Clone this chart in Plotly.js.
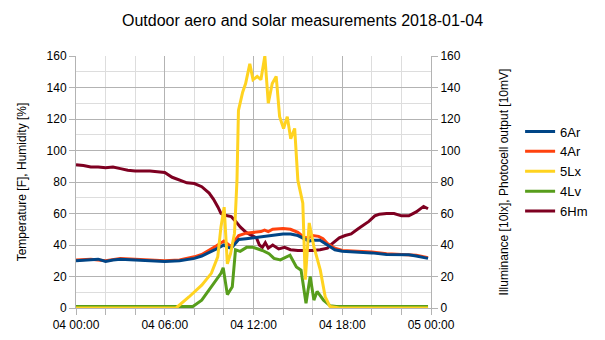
<!DOCTYPE html>
<html><head><meta charset="utf-8">
<script src="https://cdn.plot.ly/plotly-3.0.1.min.js"></script>
<style>html,body{margin:0;padding:0;background:#fff}#c{width:605px;height:340px}</style>
</head><body><div id="c"></div>
<script>
const day = '2018-01-04';
// hours after midnight
const t6Ar = [0,1,1.5,2,2.5,3,4,5,6,7,8,8.5,9,9.5,10,10.25,10.5,10.75,11,11.5,12,12.5,13,13.3,13.6,14,14.5,15,15.5,15.75,16,16.5,17,17.5,18,19,20,21,22,22.5,23,23.8];
const v6Ar = [30,30.5,31,29.5,30.5,31,30.5,30,29.5,30,31.5,33,35,37.5,40,38.5,38,41,43.5,44,44.5,45,45.5,46,46.5,47,47,46,43.5,42.5,43,43,40,37,36,35.7,35,34,33.8,33.8,33,31.5];
const t4Ar = [0,1,2,3,4,5,6,7,8,8.5,9,9.5,10,10.3,10.5,10.75,11,11.5,12,12.5,12.75,13,13.3,13.7,14,14.5,15,15.4,15.7,16,16.4,16.7,17,17.5,18,19,20,21,22,23,23.8];
const v4Ar = [30.5,31,30,31.5,31,30.5,30,30.5,32.5,34,36.5,39.5,42.5,40.5,39,43,46,47.5,48,48.5,49.5,48.5,50,50.5,50.5,50,48,45,44.5,46,45.5,44,41,38,36.5,36,35.5,34.5,34,33.5,32];
const t5Lx = [0,6.76,7.63,8.5,9.15,9.58,9.8,10.02,10.23,10.45,10.71,10.88,10.99,11.27,11.47,11.75,11.97,12.25,12.5,12.77,13.0,13.27,13.53,13.77,14.03,14.29,14.52,14.78,15.0,15.33,15.5,15.76,16.08,16.52,16.85,17.17,17.8,23.8];
const v5Lx = [0,0,7,14.5,22,32.5,51.5,64,28,34.5,47.5,81,125.5,137,142.5,155,145,147,145,160,130,142.5,147,121.5,114,121.5,107.5,114,81,66.5,18,54,39,24,7,1,0,0];
const t4Lv = [0,7.9,8.5,9.15,9.8,9.95,10.23,10.56,10.78,11.1,11.53,11.97,12.6,13.05,13.38,13.81,14.13,14.46,14.9,15.22,15.55,15.83,16.08,16.3,16.74,17.17,17.6,23.8];
const v4Lv = [1,1,5,13.5,22,25.5,8.5,13.5,37,36,38.5,38.5,36.5,34.5,31.5,30.5,32,33.5,26,24,3,20,5,10.5,5,1.5,1,1];
const t6Hm = [0,0.5,1,1.5,2,2.5,3,3.5,4,4.5,5,5.5,6,6.5,7,7.5,8,8.5,9,9.3,9.6,9.8,10,10.5,10.8,11.1,11.5,11.9,12.2,12.4,12.6,12.8,13.0,13.3,13.7,14.1,14.5,15,16,16.5,17,17.2,17.5,17.8,18.2,18.6,19.1,19.5,19.8,20.2,20.5,21,21.5,22,22.5,23,23.5,23.8];
const v6Hm = [91,90.5,89.5,89.5,89,89.5,88.5,87.5,87,87,87,86.5,86,83,81,79.5,79,77,73,69,64,60,59,58,55,51.5,48,46,44.5,40,38.5,41.5,38,40,37.5,38.5,37,36.5,36.5,37,38,40,42,44.5,46,47,50.5,53,55,58.5,59.5,60,60,58.5,58.5,61,64.5,63];

function ts(h){
  const m = Math.round(h*60);
  const hh = String(Math.floor(m/60)).padStart(2,'0');
  const mm = String(m%60).padStart(2,'0');
  return day+' '+hh+':'+mm;
}
const mk = (t,v,name,color,rank,yaxis) => ({x:t.map(ts),y:v,name:name,type:'scatter',mode:'lines',
  line:{color:color,width:3},legendrank:rank,yaxis:yaxis||'y'});

const data = [
  mk(t4Lv,v4Lv,'4Lv','#579d1c',4,'y2'),
  mk(t5Lx,v5Lx,'5Lx','#ffd320',3,'y2'),
  mk(t6Hm,v6Hm,'6Hm','#7e0021',5),
  mk(t4Ar,v4Ar,'4Ar','#ff420e',2),
  mk(t6Ar,v6Ar,'6Ar','#004586',1)
];
const font = {family:'Liberation Sans, Arial, sans-serif', size:12, color:'#000'};
const ax = {range:[0,160],dtick:20,tick0:0,showgrid:true,gridcolor:'#b3b3b3',gridwidth:1,
  ticks:'outside',ticklen:6,tickcolor:'#b3b3b3',showline:true,linecolor:'#b3b3b3',zeroline:false,
  minor:{dtick:10,showgrid:true,gridcolor:'#dddddd',ticks:''},tickfont:font,fixedrange:true};
const layout = {
  width:605,height:340,margin:{l:76,r:160,t:56,b:32},
  paper_bgcolor:'#fff',plot_bgcolor:'#fff',font:font,
  title:{text:'Outdoor aero and solar measurements 2018-01-04',font:{family:'Liberation Sans, Arial, sans-serif',size:16,color:'#000'},x:0.5,xanchor:'center',y:0.94,yanchor:'middle'},
  xaxis:{type:'date',range:['2018-01-04 00:00','2018-01-05 00:00'],dtick:21600000,tick0:'2018-01-04 00:00',
    tickformat:'%d %H:%M',showgrid:true,gridcolor:'#b3b3b3',ticks:'outside',ticklen:6,tickcolor:'#b3b3b3',
    showline:true,linecolor:'#b3b3b3',zeroline:false,tickfont:font,
    minor:{dtick:7200000,showgrid:true,gridcolor:'#dddddd',ticks:'outside',ticklen:6,tickcolor:'#b3b3b3'}},
  yaxis:Object.assign({},ax,{title:{text:'Temperature [F], Humidity [%]',font:font,standoff:17}}),
  yaxis2:Object.assign({},ax,{overlaying:'y',side:'right',showgrid:false,minor:{showgrid:false},
    title:{text:'Illuminance [10lx], Photocell output [10mV]',font:font,standoff:39}}),
  showlegend:true,
  legend:{x:1.251,xanchor:'left',y:0.76,yanchor:'top',font:{family:'Liberation Sans, Arial, sans-serif',size:13,color:'#000'},
    traceorder:'normal',tracegroupgap:0,itemwidth:30,bgcolor:'rgba(0,0,0,0)'}
};
Plotly.newPlot('c',data,layout,{staticPlot:true,displayModeBar:false});
</script></body></html>
